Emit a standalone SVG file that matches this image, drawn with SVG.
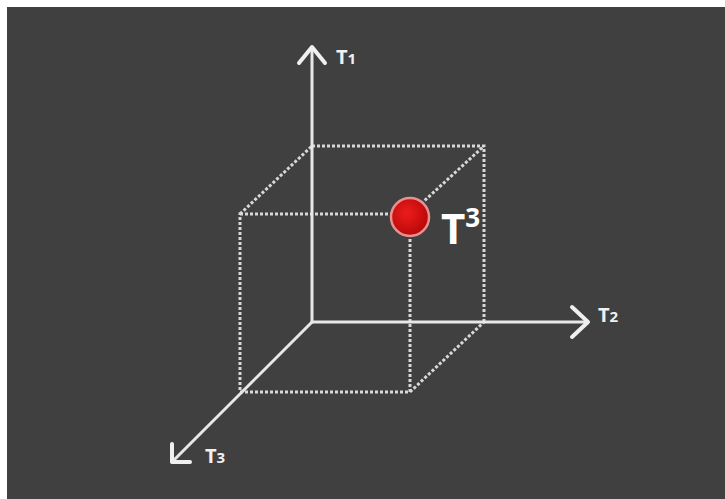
<svg xmlns="http://www.w3.org/2000/svg" width="725" height="499" viewBox="0 0 725 499">
<defs>
<style>
.axis{stroke:#e8e8e8;stroke-width:3;fill:none;stroke-linecap:round;stroke-linejoin:round}
.head{stroke:#f0f0f0;stroke-width:4;fill:none;stroke-linecap:round;stroke-linejoin:round}
.dot{stroke:#d8d8d8;stroke-width:3;fill:none;stroke-dasharray:3 2}
.lbl{font-family:"Open Sans","DejaVu Sans",sans-serif;font-size:20px;font-weight:bold;fill:#f0f0f0}
.big{font-family:"Open Sans","DejaVu Sans",sans-serif;font-size:42px;font-weight:bold;fill:#ffffff}
</style>
<radialGradient id="ball" cx="0.42" cy="0.4" r="0.6">
<stop offset="0" stop-color="#ee1c1c"/>
<stop offset="1" stop-color="#b80808"/>
</radialGradient>
</defs>
<rect x="0" y="0" width="725" height="499" fill="#ffffff"/>
<rect x="7" y="7" width="718" height="492" fill="#404040"/>
<g id="cube">
<path class="dot" d="M312 146 H484 V322"/>
<path class="dot" d="M240 214 H410 V392 H240 Z"/>
<path class="dot" d="M240 214 L312 146 M410 214 L484 146 M410 392 L484 322"/>
</g>
<g id="connectors">
<path class="axis" d="M312 322 V47"/>
<path class="head" d="M299 63 L312 47 L325 63"/>
<path class="axis" d="M312 322 H588"/>
<path class="head" d="M572 307 L588 322 L572 337"/>
<path class="axis" d="M312 322 L172 462"/>
<path class="head" d="M172 444 L172 462 L190 462"/>
</g>
<g id="T1"><text class="lbl" x="336" y="64">T<tspan font-size="15">1</tspan></text></g>
<g id="T2"><text class="lbl" x="598" y="322">T<tspan font-size="15">2</tspan></text></g>
<g id="T3axis"><text class="lbl" x="205" y="463">T<tspan font-size="15">3</tspan></text></g>
<g id="point">
<circle cx="410" cy="217" r="19" fill="url(#ball)" stroke="#e89090" stroke-width="2.5"/>
<text class="big" x="441" y="244">T<tspan font-size="26" dy="-17">3</tspan></text>
</g>
</svg>
